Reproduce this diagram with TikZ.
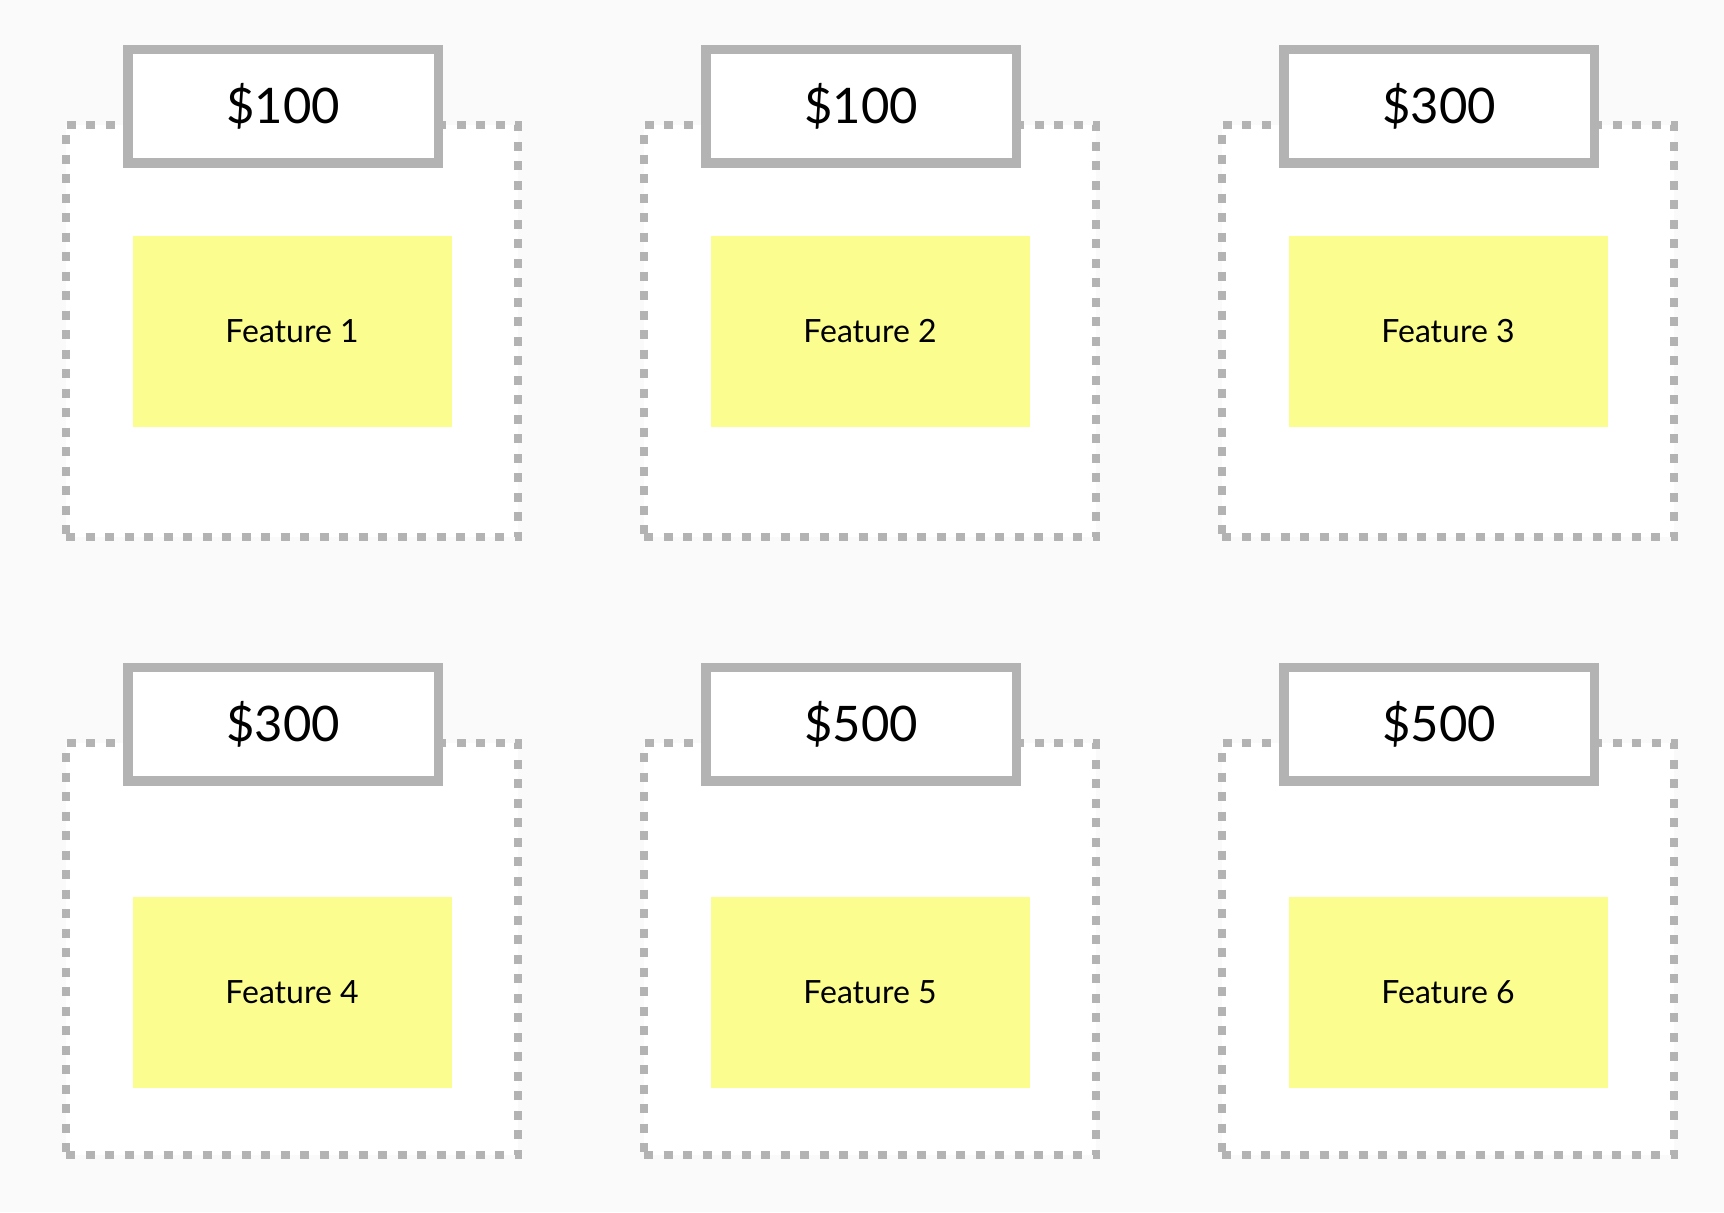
\documentclass[tikz,border=0pt]{standalone}
\usepackage{fontspec}
\setmainfont{Lato}
\definecolor{pagebg}{HTML}{FAFAFA}
\definecolor{framegray}{HTML}{B3B3B3}
\definecolor{stickyyellow}{HTML}{FCFD8F}

\tikzstyle{frame}=[draw=framegray, fill=white, line width=4pt, dash pattern=on 4.5pt off 5.25pt, inner sep=0pt, minimum width=226pt, minimum height=206pt]
\tikzstyle{price}=[draw=framegray, fill=white, line width=4.75pt, inner sep=0pt, minimum width=155.25pt, minimum height=56.75pt, font=\fontsize{24.5}{28}\selectfont]
\tikzstyle{sticky}=[fill=stickyyellow, inner sep=0pt, minimum width=159.5pt, minimum height=95.5pt, font=\fontsize{16}{19}\selectfont]

\begin{document}
\begin{tikzpicture}[x=0.5pt, y=-0.5pt]
      \fill[pagebg] (0, 0) rectangle (1724, 1212);

      % top row
      \node[frame] (frame1) at (292, 331) {};
      \node[frame] (frame2) at (870, 331) {};
      \node[frame] (frame3) at (1448, 331) {};
      \node[price] (price1) at (283, 106) {\$100};
      \node[price] (price2) at (861, 106) {\$100};
      \node[price] (price3) at (1439, 106) {\$300};
      \node[sticky] (feat1) at (292, 331.5) {Feature 1};
      \node[sticky] (feat2) at (870, 331.5) {Feature 2};
      \node[sticky] (feat3) at (1448, 331.5) {Feature 3};

      % bottom row
      \node[frame] (frame4) at (292, 949) {};
      \node[frame] (frame5) at (870, 949) {};
      \node[frame] (frame6) at (1448, 949) {};
      \node[price] (price4) at (283, 724) {\$300};
      \node[price] (price5) at (861, 724) {\$500};
      \node[price] (price6) at (1439, 724) {\$500};
      \node[sticky] (feat4) at (292, 992) {Feature 4};
      \node[sticky] (feat5) at (870, 992) {Feature 5};
      \node[sticky] (feat6) at (1448, 992) {Feature 6};
    \end{tikzpicture}
\end{document}
